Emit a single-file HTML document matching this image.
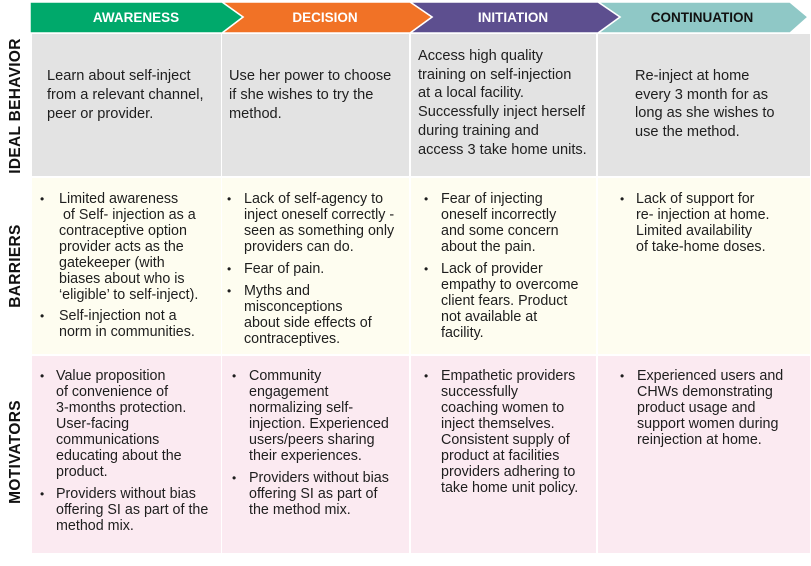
<!DOCTYPE html>
<html><head><meta charset="utf-8"><style>
body{margin:0;width:811px;height:566px;background:#fff;position:relative;overflow:hidden;font-family:"Liberation Sans",Arial,sans-serif;color:#1e1e1e}
.bg{position:absolute}
.t{position:absolute;font-size:14.3px;line-height:16px;white-space:nowrap}
.i{position:absolute;font-size:14.6px;line-height:19px;white-space:nowrap}
.b{position:absolute;font-size:12px;line-height:16px}
.lab{position:absolute;font-weight:bold;font-size:15.5px;color:#111;transform:rotate(-90deg);transform-origin:center;white-space:nowrap;width:200px;text-align:center;letter-spacing:0.3px}
</style></head><body>
<svg width="811" height="36" style="position:absolute;left:0;top:0">
<polygon points="598,2 790,2 808,17 790,33 598,33 620,17" fill="#8fc8c6" stroke="#fff" stroke-width="1.5"/>
<polygon points="410,2 598,2 620,17 598,33 410,33 432,17" fill="#5d4f8f" stroke="#fff" stroke-width="1.5"/>
<polygon points="222,2 410,2 432,17 410,33 222,33 243,17" fill="#f17226" stroke="#fff" stroke-width="1.5"/>
<polygon points="30,2 222,2 243,17 222,33 30,33" fill="#00a96b" stroke="#fff" stroke-width="1.5"/>
<g font-family="Liberation Sans,Arial,sans-serif" font-weight="bold" font-size="13.5" text-anchor="middle">
<text x="136" y="22" fill="#fff">AWARENESS</text>
<text x="325" y="22" fill="#fff">DECISION</text>
<text x="513" y="22" fill="#fff">INITIATION</text>
<text x="702" y="22" fill="#111">CONTINUATION</text>
</g></svg>
<div class="bg" style="left:32px;top:34px;width:778px;height:143px;background:#e3e3e3"></div>
<div class="bg" style="left:32px;top:177px;width:778px;height:178px;background:#fefdf0"></div>
<div class="bg" style="left:32px;top:355px;width:778px;height:198px;background:#fbeaf1"></div>
<div class="bg" style="left:221px;top:34px;width:1px;height:519px;background:#fff"></div>
<div class="bg" style="left:409px;top:34px;width:2px;height:519px;background:#fff"></div>
<div class="bg" style="left:596px;top:34px;width:2px;height:519px;background:#fff"></div>
<div class="bg" style="left:32px;top:176px;width:778px;height:2px;background:#fff"></div>
<div class="bg" style="left:32px;top:354px;width:778px;height:2px;background:#fff"></div>

<div class="lab" style="left:-84px;top:97px">IDEAL BEHAVIOR</div>
<div class="lab" style="left:-84px;top:257px">BARRIERS</div>
<div class="lab" style="left:-84px;top:443px">MOTIVATORS</div>

<div class="i" style="left:47px;top:67px">Learn about self-inject<br>from a relevant channel,<br>peer or provider.</div>
<div class="i" style="left:229px;top:67px">Use her power to choose<br>if she wishes to try the<br>method.</div>
<div class="i" style="left:418px;top:47px;line-height:18.7px">Access high quality<br>training on self-injection<br>at a local facility.<br>Successfully inject herself<br>during training and<br>access 3 take home units.</div>
<div class="i" style="left:635px;top:67px;line-height:18.7px">Re-inject at home<br>every 3 month for as<br>long as she wishes to<br>use the method.</div>

<div class="b" style="left:40px;top:191px">•</div>
<div class="t" style="left:59px;top:191px">Limited awareness<br>&nbsp;of Self- injection as a<br>contraceptive option<br>provider acts as the<br>gatekeeper (with<br>biases about who is<br>‘eligible’ to self-inject).</div>
<div class="b" style="left:40px;top:308px">•</div>
<div class="t" style="left:59px;top:308px">Self-injection not a<br>norm in communities.</div>

<div class="b" style="left:227px;top:191px">•</div>
<div class="t" style="left:244px;top:191px">Lack of self-agency to<br>inject oneself correctly -<br>seen as something only<br>providers can do.</div>
<div class="b" style="left:227px;top:261px">•</div>
<div class="t" style="left:244px;top:261px">Fear of pain.</div>
<div class="b" style="left:227px;top:283px">•</div>
<div class="t" style="left:244px;top:283px">Myths and<br>misconceptions<br>about side effects of<br>contraceptives.</div>

<div class="b" style="left:424px;top:191px">•</div>
<div class="t" style="left:441px;top:191px">Fear of injecting<br>oneself incorrectly<br>and some concern<br>about the pain.</div>
<div class="b" style="left:424px;top:261px">•</div>
<div class="t" style="left:441px;top:261px">Lack of provider<br>empathy to overcome<br>client fears. Product<br>not available at<br>facility.</div>

<div class="b" style="left:620px;top:191px">•</div>
<div class="t" style="left:636px;top:191px">Lack of support for<br>re- injection at home.<br>Limited availability<br>of take-home doses.</div>

<div class="b" style="left:40px;top:368px">•</div>
<div class="t" style="left:56px;top:368px">Value proposition<br>of convenience of<br>3-months protection.<br>User-facing<br>communications<br>educating about the<br>product.</div>
<div class="b" style="left:40px;top:486px">•</div>
<div class="t" style="left:56px;top:486px">Providers without bias<br>offering SI as part of the<br>method mix.</div>

<div class="b" style="left:232px;top:368px">•</div>
<div class="t" style="left:249px;top:368px">Community<br>engagement<br>normalizing self-<br>injection. Experienced<br>users/peers sharing<br>their experiences.</div>
<div class="b" style="left:232px;top:470px">•</div>
<div class="t" style="left:249px;top:470px">Providers without bias<br>offering SI as part of<br>the method mix.</div>

<div class="b" style="left:424px;top:368px">•</div>
<div class="t" style="left:441px;top:368px">Empathetic providers<br>successfully<br>coaching women to<br>inject themselves.<br>Consistent supply of<br>product at facilities<br>providers adhering to<br>take home unit policy.</div>

<div class="b" style="left:620px;top:368px">•</div>
<div class="t" style="left:637px;top:368px">Experienced users and<br>CHWs demonstrating<br>product usage and<br>support women during<br>reinjection at home.</div>
</body></html>
